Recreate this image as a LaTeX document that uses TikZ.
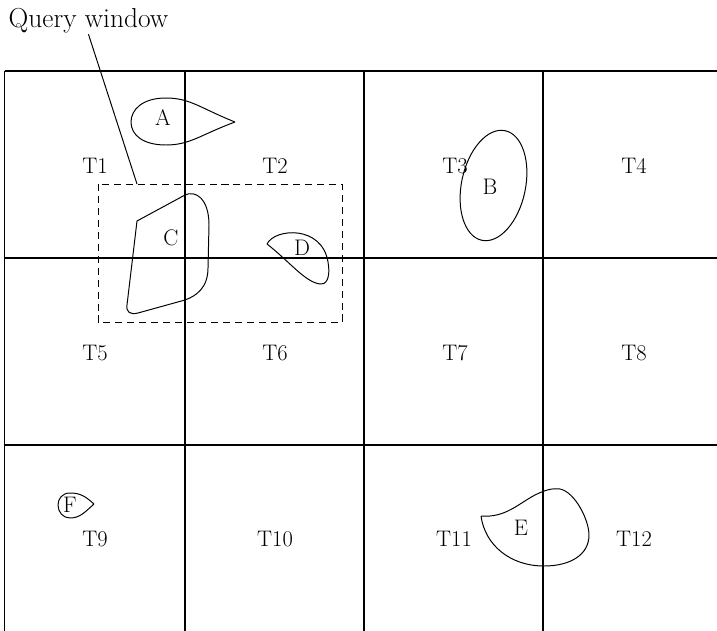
\documentclass[tikz,border=0pt]{standalone}
\begin{document}
\begin{tikzpicture}[x=0.025cm,y=-0.025cm,
    lbl/.style={font=\fontsize{16}{19}\selectfont, inner sep=1pt},
    blob/.style={line width=0.7pt},
    gridline/.style={line width=0.85pt}]
\useasboundingbox (0,0) rectangle (717,631);
\foreach \y in {71,258,445}
    \draw[gridline] (4.5,\y) -- (717,\y);
\foreach \x in {4.5,185,364,543}
    \draw[gridline] (\x,71) -- (\x,631);
\foreach \n/\x/\y in {
    1/95/166, 2/275/166, 3/455/166, 4/634/166,
    5/95/353, 6/275/353, 7/455/353, 8/634/353,
    9/95/539, 10/275/539, 11/454/539, 12/634/539
} {
    \node[lbl] (t\n) at (\x,\y) {T\n};
}
\draw[blob] (235,122) .. controls (200,108) and (190,98) .. (166,98)
    .. controls (142,98) and (131,110) .. (131,122)
    .. controls (131,135) and (143,145) .. (166,145)
    .. controls (190,145) and (200,135) .. (235,122);
\node[lbl] (a) at (163,118) {A};
\draw[blob, rotate around={-12:(493.5,185.5)}] (493.5,185.5) ellipse [x radius=32, y radius=56];
\node[lbl] (b) at (490,187) {B};
\draw[blob] (137,221) -- (185,195) .. controls (195,190) and (209,198) .. (209,225)
    -- (208,268) .. controls (208,288) and (196,296) .. (185,300)
    -- (138,313) .. controls (130,315) and (126,312) .. (127,305) -- cycle;
\node[lbl] (c) at (171,238) {C};
\draw[blob] (267,244) .. controls (275,228) and (322,225) .. (328,262)
    .. controls (331,280) and (325,285) .. (320,284)
    .. controls (305,282) and (290,262) .. (267,244);
\node[lbl] (d) at (302,248) {D};
\draw[blob] (481,516) .. controls (505,518) and (518,504) .. (535,495)
    .. controls (545,490) and (552,488) .. (560,489)
    .. controls (575,492) and (589,520) .. (589,535)
    .. controls (589,555) and (570,566) .. (544,566)
    .. controls (510,566) and (485,545) .. (481,516);
\node[lbl] (e) at (521,528) {E};
\draw[blob] (94,504) .. controls (85,496) and (80,493) .. (70,493)
    .. controls (62,493) and (58,499) .. (58,505)
    .. controls (58,512) and (63,518) .. (70,518)
    .. controls (80,518) and (85,512) .. (94,504);
\node[lbl] (f) at (70,505) {F};
\draw[blob, dash pattern=on 5pt off 3.5pt] (98,184) rectangle (342,322);
\coordinate (qwtip) at (137,184);
\node[lbl, font=\fontsize{19.5}{23}\selectfont, anchor=base west] (qw) at (7,27) {Query window};
\draw[blob] (qw.south) -- (qwtip);
\end{tikzpicture}
\end{document}
